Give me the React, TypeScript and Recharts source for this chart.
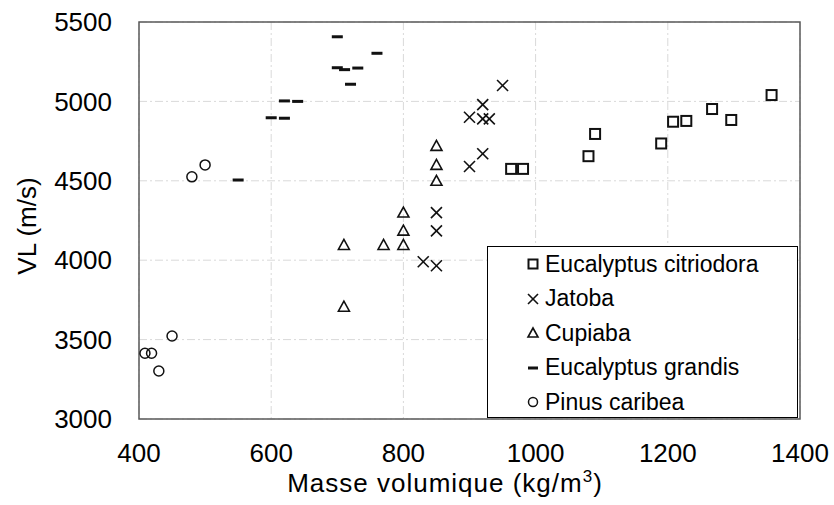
import React from 'react';
import { ScatterChart, Scatter, XAxis, YAxis, CartesianGrid, Legend, ReferenceArea } from 'recharts';

// Masse volumique (kg/m3) vs VL (m/s), per species
const seriesNames = ['Eucalyptus citriodora', 'Jatoba', 'Cupiaba', 'Eucalyptus grandis', 'Pinus caribea'];

const citriodoraX = [963, 981, 1080, 1090, 1190, 1208, 1228, 1267, 1296, 1357];
const citriodoraY = [4575, 4575, 4655, 4795, 4735, 4872, 4877, 4952, 4883, 5040];

const jatobaX = [950, 920, 900, 920, 930, 920, 900, 850, 850, 830, 850];
const jatobaY = [5100, 4980, 4900, 4890, 4890, 4670, 4590, 4300, 4185, 3990, 3965];

const cupiabaX = [850, 850, 850, 800, 800, 800, 770, 710, 710];
const cupiabaY = [4720, 4600, 4500, 4300, 4186, 4096, 4096, 4096, 3707];

const grandisX = [550, 600, 620, 620, 640, 700, 700, 711, 731, 720, 760];
const grandisY = [4505, 4897, 4894, 5003, 5000, 5407, 5212, 5200, 5210, 5108, 5303];

const pinusX = [409, 419, 430, 450, 480, 500];
const pinusY = [3414, 3414, 3302, 3523, 4525, 4600];

const xTicks = [400, 600, 800, 1000, 1200, 1400];
const yTicks = [3000, 3500, 4000, 4500, 5000, 5500];

const FONT = '"Liberation Sans", Arial, sans-serif';

type Kind = 'square' | 'cross' | 'triangle' | 'dash' | 'circle';

const kindByName: Record<string, Kind> = {
  'Eucalyptus citriodora': 'square',
  'Jatoba': 'cross',
  'Cupiaba': 'triangle',
  'Eucalyptus grandis': 'dash',
  'Pinus caribea': 'circle',
};

const toPoints = (xs: number[], ys: number[]) => xs.map((x, i) => ({ x, y: ys[i] }));

const Marker = ({ kind, cx, cy, size = 11 }: { kind: Kind; cx: number; cy: number; size?: number }) => {
  const h = size / 2;
  switch (kind) {
    case 'square':
      return <rect x={cx - h + 0.5} y={cy - h + 0.5} width={size - 1} height={size - 1} fill="none" stroke="#111" strokeWidth={2} />;
    case 'cross':
      return (
        <g stroke="#111" strokeWidth={1.6}>
          <line x1={cx - h} y1={cy - h} x2={cx + h} y2={cy + h} />
          <line x1={cx - h} y1={cy + h} x2={cx + h} y2={cy - h} />
        </g>
      );
    case 'triangle':
      return (
        <polygon
          points={`${cx},${cy - h} ${cx - h},${cy + h - 1} ${cx + h},${cy + h - 1}`}
          fill="none"
          stroke="#111"
          strokeWidth={1.6}
        />
      );
    case 'dash':
      return <rect x={cx - h} y={cy - 1.5} width={size} height={3} fill="#111" />;
    default:
      return <circle cx={cx} cy={cy} r={h - 0.5} fill="none" stroke="#111" strokeWidth={1.5} />;
  }
};

const shapeFor = (kind: Kind) => (props: any) => <Marker kind={kind} cx={props.cx} cy={props.cy} />;

const LegendBox = ({ payload }: any) => {
  // keep the series order, not the alphabetical one
  const items = [...(payload || [])].sort(
    (a: any, b: any) => seriesNames.indexOf(a.value) - seriesNames.indexOf(b.value)
  );
  return (
    <div
      style={{
        width: 311,
        height: 172,
        boxSizing: 'border-box',
        border: '1.5px solid #000',
        background: '#fff',
        fontFamily: FONT,
        fontSize: 23,
        color: '#000',
      }}
    >
      {items.map((item: any) => (
        <div key={item.value} style={{ display: 'flex', alignItems: 'center', height: 34.5, paddingLeft: 38 }}>
          <svg width={14} height={14} style={{ marginRight: 5, flex: 'none' }}>
            <Marker kind={kindByName[item.value]} cx={7} cy={7} size={10} />
          </svg>
          <span style={{ lineHeight: 1, whiteSpace: 'nowrap' }}>{item.value}</span>
        </div>
      ))}
    </div>
  );
};

const XTitle = () => (
  <text x={445} y={492} textAnchor="middle" fontFamily={FONT} fontSize={26} letterSpacing={1} fill="#000">
    Masse volumique (kg/m
    <tspan fontSize={17} dy={-10}>3</tspan>
    <tspan dy={10}>)</tspan>
  </text>
);

const YTitle = () => (
  <text x={36} y={226} transform="rotate(-90, 36, 226)" textAnchor="middle" fontFamily={FONT} fontSize={26} fill="#000">
    VL (m/s)
  </text>
);

const tickStyle = { fontSize: 26, fill: '#000', fontFamily: FONT };

const App = () => {
  return (
    <div style={{ position: 'absolute', left: 0, top: 0, width: 834, height: 505, background: '#fff' }}>
      <ScatterChart width={834} height={505} margin={{ top: 22, right: 34, bottom: 0, left: 0 }}>
        <CartesianGrid stroke="#d9d9d9" strokeDasharray="8 3 2 3" />
        <XAxis
          type="number"
          dataKey="x"
          domain={[400, 1400]}
          ticks={xTicks}
          axisLine={false}
          tickLine={false}
          tickMargin={19}
          tick={tickStyle}
          height={86}
          label={() => <XTitle />}
        />
        <YAxis
          type="number"
          dataKey="y"
          domain={[3000, 5500]}
          ticks={yTicks}
          axisLine={false}
          tickLine={false}
          tickMargin={21}
          tick={tickStyle}
          width={139}
          label={() => <YTitle />}
        />
        <ReferenceArea x1={400} x2={1400} y1={3000} y2={5500} fill="none" stroke="#595959" strokeWidth={1.5} />
        <Scatter name={seriesNames[0]} data={toPoints(citriodoraX, citriodoraY)} shape={shapeFor('square')} isAnimationActive={false} />
        <Scatter name={seriesNames[1]} data={toPoints(jatobaX, jatobaY)} shape={shapeFor('cross')} isAnimationActive={false} />
        <Scatter name={seriesNames[2]} data={toPoints(cupiabaX, cupiabaY)} shape={shapeFor('triangle')} isAnimationActive={false} />
        <Scatter name={seriesNames[3]} data={toPoints(grandisX, grandisY)} shape={shapeFor('dash')} isAnimationActive={false} />
        <Scatter name={seriesNames[4]} data={toPoints(pinusX, pinusY)} shape={shapeFor('circle')} isAnimationActive={false} />
        <Legend
          layout="vertical"
          align="center"
          verticalAlign="middle"
          content={LegendBox}
          wrapperStyle={{ left: 487, top: 246, width: 311, height: 172 }}
        />
      </ScatterChart>
    </div>
  );
};

export default App;
